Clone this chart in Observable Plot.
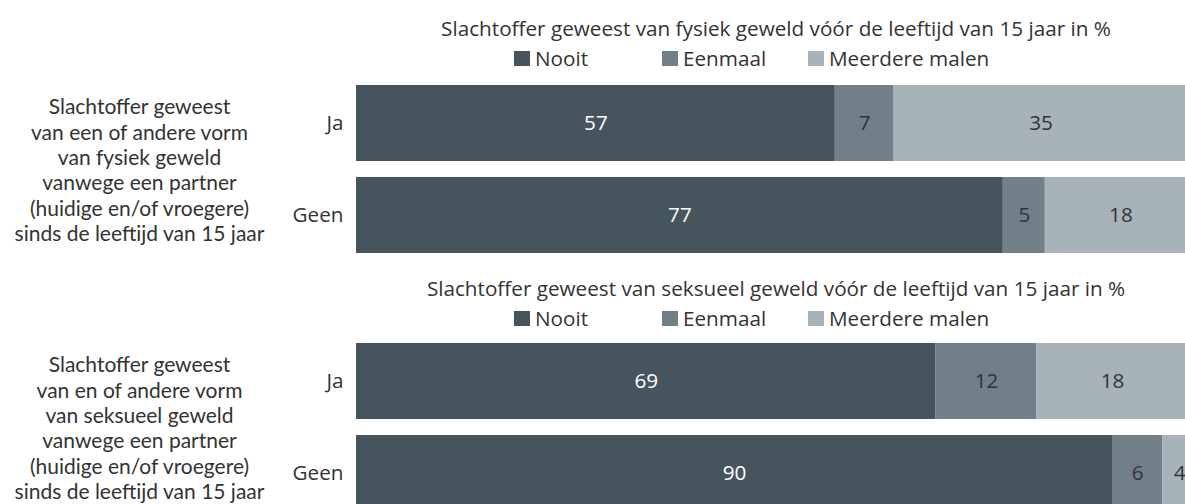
<!DOCTYPE html>
<html>
<head>
<meta charset="utf-8">
<script src="https://cdn.jsdelivr.net/npm/d3@7"></script>
<script src="https://cdn.jsdelivr.net/npm/@observablehq/plot@0.6"></script>
<style>
  html, body { margin: 0; padding: 0; background: #fff; overflow: hidden; }
  #page { position: relative; width: 1185px; height: 504px; overflow: hidden; font-family: "Open Sans", sans-serif; color: #333; }
  .title { position: absolute; left: 376px; width: 800px; text-align: center; font-size: 20.7px; line-height: 24px; white-space: nowrap; }
  .leg { position: absolute; font-size: 20.7px; line-height: 24px; white-space: nowrap; }
  .sw { display: inline-block; width: 16px; height: 15px; margin-right: 5px; vertical-align: 0; }
  .chart { position: absolute; left: 0; max-width: none !important; }
</style>
</head>
<body>
<div id="page"></div>
<script>
const categories = ["Nooit", "Eenmaal", "Meerdere malen"];
const colors = ["#46545e", "#717f88", "#a7b2b9"];
const rows = ["Ja", "Geen"];

const title1 = "Slachtoffer geweest van fysiek geweld vóór de leeftijd van 15 jaar in %";
const fysiekJa = [57, 7, 35];
const fysiekGeen = [77, 5, 18];
const label1 = "Slachtoffer geweest\nvan een of andere vorm\nvan fysiek geweld\nvanwege een partner\n(huidige en/of vroegere)\nsinds de leeftijd van 15 jaar";

const title2 = "Slachtoffer geweest van seksueel geweld vóór de leeftijd van 15 jaar in %";
const seksueelJa = [69, 12, 18];
const seksueelGeen = [90, 6, 4];
const label2 = "Slachtoffer geweest\nvan en of andere vorm\nvan seksueel geweld\nvanwege een partner\n(huidige en/of vroegere)\nsinds de leeftijd van 15 jaar";

const FONT = "Open Sans, sans-serif";
const LFONT = "Lato, sans-serif";
const FS = 20.7;
const LFS = 21;
const page = document.getElementById("page");

function addTitle(text, top) {
  const d = document.createElement("div");
  d.className = "title";
  d.style.top = top + "px";
  d.textContent = text;
  page.appendChild(d);
}
function addLegend(top) {
  const lefts = [514, 662, 808];
  categories.forEach((c, i) => {
    const d = document.createElement("div");
    d.className = "leg";
    d.style.top = top + "px";
    d.style.left = lefts[i] + "px";
    const s = document.createElement("span");
    s.className = "sw";
    s.style.background = colors[i];
    d.appendChild(s);
    d.appendChild(document.createTextNode(c));
    page.appendChild(d);
  });
}

function chart(valsJa, valsGeen, label, top) {
  const vals = [valsJa, valsGeen];
  const data = rows.flatMap((r, i) => categories.map((c, j) => ({row: r, cat: c, value: vals[i][j]})));
  const stackOpts = {x: "value", y: "row", z: "cat", text: "value", fontSize: FS, fontFamily: FONT};
  const p = Plot.plot({
    width: 1196,
    height: 188,
    marginLeft: 356,
    marginRight: 0,
    marginTop: 10,
    marginBottom: 10,
    style: {fontFamily: FONT, fontSize: FS + "px", color: "#333", background: "transparent", maxWidth: "none"},
    x: {domain: [0, 100], axis: null},
    y: {domain: rows, paddingInner: 0.174, paddingOuter: 0, label: null, tickSize: 0, tickPadding: 13},
    color: {domain: categories, range: colors},
    marks: [
      Plot.barX(data, {x: "value", y: "row", fill: "cat", z: "cat"}),
      Plot.text(data, Plot.filter(d => d.cat === "Nooit", Plot.stackX({...stackOpts, fill: "white"}))),
      Plot.text(data, Plot.filter(d => d.cat !== "Nooit", Plot.stackX({...stackOpts, fill: "#333"}))),
      Plot.text([label], {text: d => d, frameAnchor: "left", dx: -217, textAnchor: "middle", lineHeight: 1.205, fontSize: LFS, fill: "#333", fontFamily: LFONT})
    ]
  });
  p.classList.add("chart");
  p.style.top = top + "px";
  p.style.maxWidth = "none";
  page.appendChild(p);
}

addTitle(title1, 16);
addLegend(46);
chart(fysiekJa, fysiekGeen, label1, 75);
addTitle(title2, 276);
addLegend(306);
chart(seksueelJa, seksueelGeen, label2, 333);
</script>
</body>
</html>
